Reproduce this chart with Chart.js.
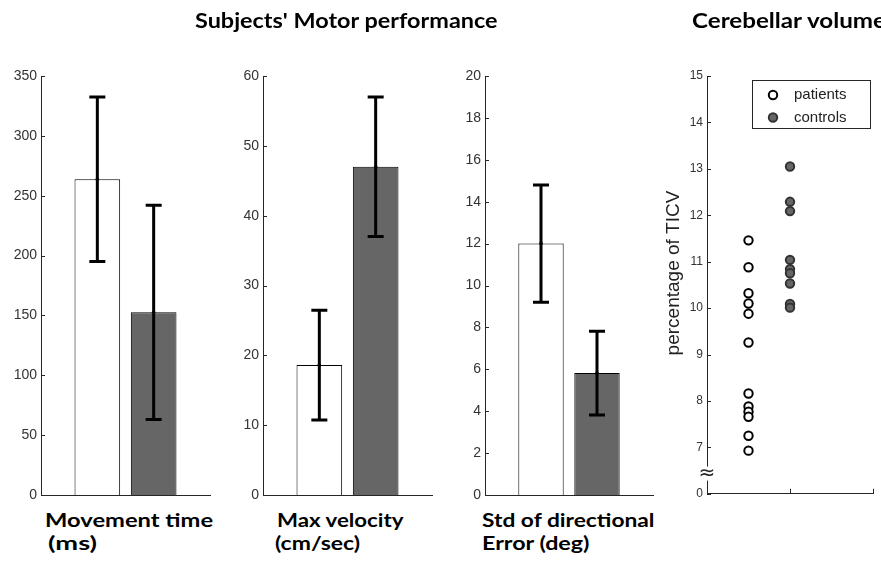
<!DOCTYPE html>
<html>
<head>
<meta charset="utf-8">
<script src="https://cdn.jsdelivr.net/npm/chart.js@4.4.1/dist/chart.umd.min.js"></script>
<style>
  body { margin: 0; background: #fff; width: 881px; height: 565px; overflow: hidden; position: relative; }
  canvas { position: absolute; top: 0; }
  .lbl { position: absolute; font-family: Lato, "Open Sans", sans-serif; font-weight: 700; color: #000;
         white-space: nowrap; line-height: 1; transform-origin: 0 0; }
</style>
</head>
<body>
<canvas id="c1" width="212" height="500" style="left:0px"></canvas>
<canvas id="c2" width="212" height="500" style="left:222px"></canvas>
<canvas id="c3" width="211" height="500" style="left:444px"></canvas>
<canvas id="c4" width="221" height="500" style="left:660px"></canvas>

<div class="lbl" data-x="195" data-base="28" data-size="21" data-w="303">Subjects' Motor performance</div>
<div class="lbl" data-x="692" data-base="28" data-size="21" data-w="195">Cerebellar volume</div>
<div class="lbl" data-x="45" data-base="527" data-size="19.5" data-w="168">Movement time</div>
<div class="lbl" data-x="48" data-base="550" data-size="19.5" data-w="49">(ms)</div>
<div class="lbl" data-x="277" data-base="527" data-size="19.5" data-w="127">Max velocity</div>
<div class="lbl" data-x="275" data-base="550" data-size="19.5" data-w="85">(cm/sec)</div>
<div class="lbl" data-x="482" data-base="527" data-size="19.5" data-w="173">Std of directional</div>
<div class="lbl" data-x="482" data-base="550" data-size="19.5" data-w="108">Error (deg)</div>

<script>
// groups and values
const groups = ['patients', 'controls'];
const moveTimeMean = [263.7, 152.6];
const moveTimeSD = [68.7, 89.5];
const velocityMean = [18.6, 47.0];
const velocitySD = [7.85, 10.0];
const dirErrMean = [12.0, 5.82];
const dirErrSD = [2.8, 2.0];
const barAxisMax = [350, 60, 20];
const barAxisStep = [50, 10, 2];

// cerebellar volume (% of TICV)
const patientsVol = [11.46, 10.88, 10.32, 10.10, 9.88, 9.26, 8.16, 7.88, 7.77, 7.66, 7.25, 6.93];
const controlsVol = [13.05, 12.29, 12.09, 11.04, 10.84, 10.75, 10.53, 10.09, 10.01];
const volTickValues = [6, 7, 8, 9, 10, 11, 12, 13, 14, 15];
const volTickLabels = ['0', '7', '8', '9', '10', '11', '12', '13', '14', '15'];

const axisColor = '#262626';
const tickFamily = '"Liberation Sans", Arial, sans-serif';

// fixed axis boxes, no extra room for overhanging labels
function fixY(width) {
  return s => { s.width = width; s.paddingTop = 0; s.paddingBottom = 0; };
}
function fixX(s) {
  s.height = 5; s.paddingLeft = 0; s.paddingRight = 0;
}

// MATLAB style ticks pointing into the plot
const inwardTicks = {
  id: 'inwardTicks',
  afterDraw(chart, args, opts) {
    const {ctx, chartArea: a} = chart;
    const y = chart.scales.y, x = chart.scales.x;
    ctx.save();
    ctx.strokeStyle = axisColor;
    ctx.lineWidth = 1;
    ctx.beginPath();
    y.ticks.forEach(t => {
      const py = Math.round(y.getPixelForValue(t.value)) + 0.5;
      ctx.moveTo(a.left, py);
      ctx.lineTo(a.left + 4, py);
    });
    (opts.xTicks || []).forEach(v => {
      const px = Math.round(x.getPixelForValue(v)) + 0.5;
      ctx.moveTo(px, a.bottom);
      ctx.lineTo(px, a.bottom - 5);
    });
    ctx.stroke();
    ctx.restore();
  }
};

const errorBars = {
  id: 'errorBars',
  afterDatasetsDraw(chart, args, opts) {
    if (!opts.sd) return;
    const {ctx} = chart;
    const y = chart.scales.y;
    const meta = chart.getDatasetMeta(0);
    const means = chart.data.datasets[0].data;
    ctx.save();
    ctx.strokeStyle = '#000';
    ctx.fillStyle = '#000';
    ctx.lineWidth = 3;
    means.forEach((m, i) => {
      if (m == null) return;
      const sd = opts.sd[i];
      const x = meta.data[i].x;
      const top = y.getPixelForValue(m + sd);
      const bot = y.getPixelForValue(m - sd);
      ctx.beginPath();
      ctx.moveTo(x, top); ctx.lineTo(x, bot);
      ctx.moveTo(x - 8, top); ctx.lineTo(x + 8, top);
      ctx.moveTo(x - 8, bot); ctx.lineTo(x + 8, bot);
      ctx.stroke();
      ctx.beginPath();
      ctx.arc(x, y.getPixelForValue(m), 1.8, 0, Math.PI * 2);
      ctx.fill();
    });
    ctx.restore();
  }
};

function barPanel(id, means, sds, max, step) {
  return new Chart(document.getElementById(id), {
    type: 'bar',
    data: {
      labels: ['', ...groups, ''],
      datasets: [{
        data: [null, ...means, null],
        backgroundColor: ['#fff', '#fff', '#666', '#fff'],
        borderColor: '#000',
        borderWidth: 1,
        categoryPercentage: 1,
        barPercentage: 0.81
      }]
    },
    options: {
      responsive: false,
      animation: false,
      layout: { padding: { top: 76, right: 2, left: 0, bottom: 0 } },
      plugins: {
        legend: { display: false },
        tooltip: { enabled: false },
        errorBars: { sd: [null, ...sds, null] }
      },
      scales: {
        x: {
          offset: false,
          grid: { display: false, drawTicks: false },
          border: { color: axisColor },
          ticks: { display: false },
          afterFit: fixX
        },
        y: {
          min: 0, max: max,
          grid: { display: false, drawTicks: false },
          border: { color: axisColor },
          ticks: { stepSize: step, color: '#333', padding: 4, font: { size: 14, family: tickFamily } },
          afterFit: fixY(41)
        }
      }
    },
    plugins: [errorBars, inwardTicks]
  });
}

barPanel('c1', moveTimeMean, moveTimeSD, barAxisMax[0], barAxisStep[0]);
barPanel('c2', velocityMean, velocitySD, barAxisMax[1], barAxisStep[1]);
barPanel('c3', dirErrMean, dirErrSD, barAxisMax[2], barAxisStep[2]);

// axis break, y title and boxed legend of the volume plot
const volDecor = {
  id: 'volDecor',
  afterDraw(chart) {
    const {ctx, chartArea: a} = chart;
    const y = chart.scales.y;
    ctx.save();
    // axis break between 0 and 7
    const yb = (y.getPixelForValue(6) + y.getPixelForValue(7)) / 2 + 3;
    ctx.fillStyle = '#fff';
    ctx.fillRect(a.left - 3, yb - 7, 7, 14);
    ctx.fillStyle = axisColor;
    ctx.font = '20px "DejaVu Sans", sans-serif';
    ctx.textAlign = 'center';
    ctx.textBaseline = 'middle';
    ctx.fillText('\u2248', a.left, yb);

    // y title
    ctx.translate(14, 273);
    ctx.rotate(-Math.PI / 2);
    ctx.font = '19px ' + tickFamily;
    ctx.fillStyle = '#222';
    ctx.fillText('percentage of TICV', 0, 0);
    ctx.setTransform(1, 0, 0, 1, 0, 0);
    ctx.restore();

    // legend box
    ctx.save();
    const bx = 92.5, by = 80.5, bw = 118, bh = 48;
    ctx.fillStyle = '#fff';
    ctx.fillRect(bx, by, bw, bh);
    ctx.strokeStyle = axisColor;
    ctx.lineWidth = 1;
    ctx.strokeRect(bx, by, bw, bh);
    ctx.font = '15px ' + tickFamily;
    ctx.textBaseline = 'middle';
    chart.data.datasets.forEach((ds, i) => {
      const ly = 95 + i * 22.5;
      ctx.beginPath();
      ctx.arc(113, ly, ds.pointRadius, 0, Math.PI * 2);
      ctx.fillStyle = ds.backgroundColor;
      ctx.fill();
      ctx.lineWidth = ds.borderWidth;
      ctx.strokeStyle = ds.borderColor;
      ctx.stroke();
      ctx.fillStyle = '#222';
      ctx.fillText(ds.label, 134, ly);
    });
    ctx.restore();
  }
};

new Chart(document.getElementById('c4'), {
  type: 'scatter',
  data: {
    datasets: [
      { label: groups[0], data: patientsVol.map(v => ({ x: 1, y: v })),
        backgroundColor: '#fff', borderColor: '#000', pointRadius: 4.2, borderWidth: 2 },
      { label: groups[1], data: controlsVol.map(v => ({ x: 2, y: v })),
        backgroundColor: '#666', borderColor: '#333', pointRadius: 4.2, borderWidth: 2 }
    ]
  },
  options: {
    responsive: false,
    animation: false,
    layout: { padding: { top: 76, right: 8, left: 0, bottom: 0 } },
    plugins: {
      legend: { display: false },
      tooltip: { enabled: false },
      inwardTicks: { xTicks: [2, 4] }
    },
    scales: {
      x: {
        type: 'linear', min: 0, max: 4,
        grid: { display: false, drawTicks: false },
        border: { color: axisColor },
        ticks: { display: false },
        afterFit: fixX
      },
      y: {
        min: 6, max: 15,
        afterBuildTicks: s => { s.ticks = volTickValues.map(v => ({ value: v })); },
        grid: { display: false, drawTicks: false },
        border: { color: axisColor },
        ticks: { color: '#333', padding: 4, font: { size: 12, family: tickFamily },
                 callback: (v, i) => volTickLabels[i] },
        afterFit: fixY(47)
      }
    }
  },
  plugins: [inwardTicks, volDecor]
});

// place the bold headings and axis captions
const mctx = document.createElement('canvas').getContext('2d');
document.querySelectorAll('.lbl').forEach(el => {
  const size = +el.dataset.size;
  const font = '700 ' + size + 'px Lato, "Open Sans", sans-serif';
  mctx.font = font;
  const m = mctx.measureText(el.textContent);
  const asc = m.fontBoundingBoxAscent, desc = m.fontBoundingBoxDescent;
  const baseOff = (size - (asc + desc)) / 2 + asc;
  el.style.fontSize = size + 'px';
  el.style.left = el.dataset.x + 'px';
  el.style.top = (+el.dataset.base - baseOff) + 'px';
  el.style.transform = 'scaleX(' + (+el.dataset.w / m.width).toFixed(3) + ')';
});
</script>
</body>
</html>
